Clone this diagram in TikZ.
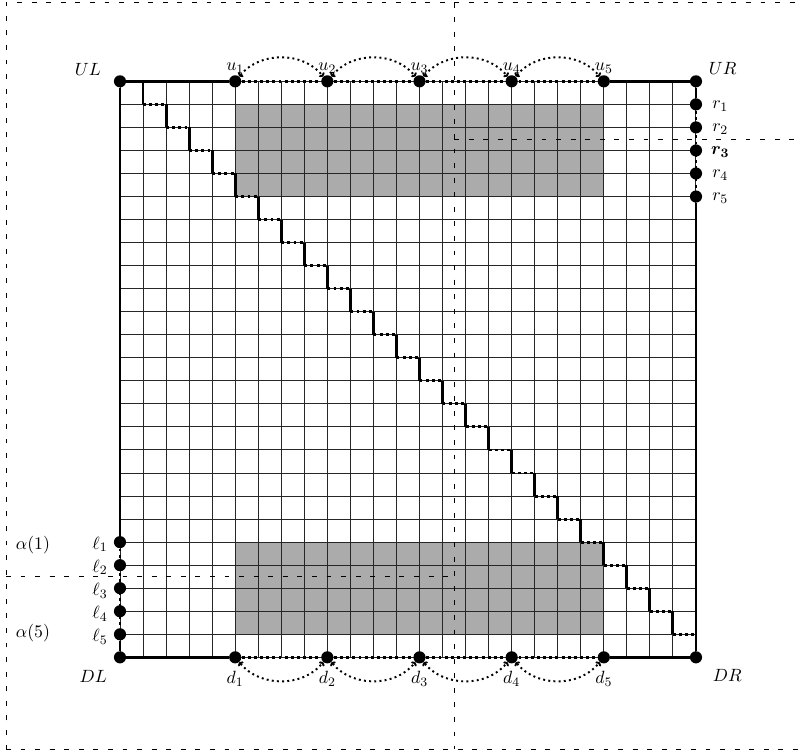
\documentclass[tikz,border=0pt]{standalone}
\usepackage{bm}
\usetikzlibrary{arrows.meta}
\begin{document}
\begin{tikzpicture}[x=0.5cm,y=0.5cm,
  dot/.style={circle,fill=black,inner sep=0pt,minimum size=7.5pt},
  lab/.style={inner sep=0pt,anchor=center,font=\fontsize{11}{13}\selectfont},
  gridline/.style={line width=0.6pt,black!85},
  shadebox/.style={fill=black!33},
  border/.style={line width=1.8pt},
  bdotted/.style={line width=1.8pt,dotted},
  stairv/.style={line width=1.8pt},
  stairh/.style={line width=1.8pt,dotted},
  hop/.style={line width=1.2pt,dotted,{To[length=2pt]}-{To[length=2pt]}},
  frame/.style={line width=0.5pt,loosely dashed}
]
\useasboundingbox (-5.208,-4.197) rectangle (29.688,28.53);
% shaded blocks
\fill[shadebox] (5,20) rectangle (21,24);
\fill[shadebox] (5,1) rectangle (21,5);
% grid
\draw[gridline,step=0.5cm] (0,0) grid (25,25);
% staircase
\foreach \k in {1,...,24} {
  \draw[stairv] (\k,26-\k) -- (\k,25-\k);
  \draw[stairh] (\k,25-\k) -- (\k+1,25-\k);
}
% corner nodes
\node[dot] (UL) at (0,25) {};
\node[dot] (UR) at (25,25) {};
\node[dot] (DL) at (0,0) {};
\node[dot] (DR) at (25,0) {};
\foreach \i/\x in {1/5,2/9,3/13,4/17,5/21} {
  \node[dot] (u\i) at (\x,25) {};
  \node[dot] (d\i) at (\x,0) {};
}
\foreach \i in {1,...,5} {
  \node[dot] (r\i) at (25,25-\i) {};
  \node[dot] (l\i) at (0,6-\i) {};
}
% borders
\draw[border] (UL) -- (u1) (u5) -- (UR) -- (r1) (r5) -- (DR) -- (d5)
  (d1) -- (DL) -- (l5) (l1) -- (UL);
\draw[bdotted] (u1) -- (u5) (r1) -- (r5) (d1) -- (d5) (l1) -- (l5);
% arcs
\foreach \i/\j in {1/2,2/3,3/4,4/5} {
  \draw[hop] (u\i) to[bend left=50] (u\j);
  \draw[hop] (d\i) to[bend right=50] (d\j);
}
% dashed frame
\draw[frame] (-4.95,-4) -- (-4.95,28.41) -- (29.688,28.41);
\draw[frame] (-4.95,-4) -- (29.688,-4);
\draw[frame] (14.5,28.41) -- (14.5,-4);
\draw[frame] (14.5,22.5) -- (29.688,22.5);
\draw[frame] (-4.95,3.5) -- (14.5,3.5);
% labels
\node[lab] (tUL) at (-1.39,25.5) {$UL$};
\node[lab] (tUR) at (26.16,25.56) {$UR$};
\node[lab] (tDL) at (-1.16,-0.84) {$DL$};
\node[lab] (tDR) at (26.36,-0.8) {$DR$};
\foreach \i/\x in {1/5,2/9,3/13,4/17,5/21} {
  \node[lab] (tu\i) at (\x,25.58) {$u_{\i}$};
  \node[lab] (td\i) at (\x,-0.93) {$d_{\i}$};
}
\foreach \i/\y in {1/23.92,2/22.92,4/20.92,5/19.92} {
  \node[lab] (tr\i) at (26.05,\y) {$r_{\i}$};
}
\node[lab] (tr3) at (26.05,21.92) {$\bm{r_{3}}$};
\foreach \i/\y in {1/4.9,2/3.9,3/2.9,4/1.9,5/0.9} {
  \node[lab] (tl\i) at (-0.87,\y) {$\ell_{\i}$};
}
\node[lab] (ta1) at (-3.78,4.87) {$\alpha(1)$};
\node[lab] (ta5) at (-3.78,1.04) {$\alpha(5)$};
\end{tikzpicture}
\end{document}
